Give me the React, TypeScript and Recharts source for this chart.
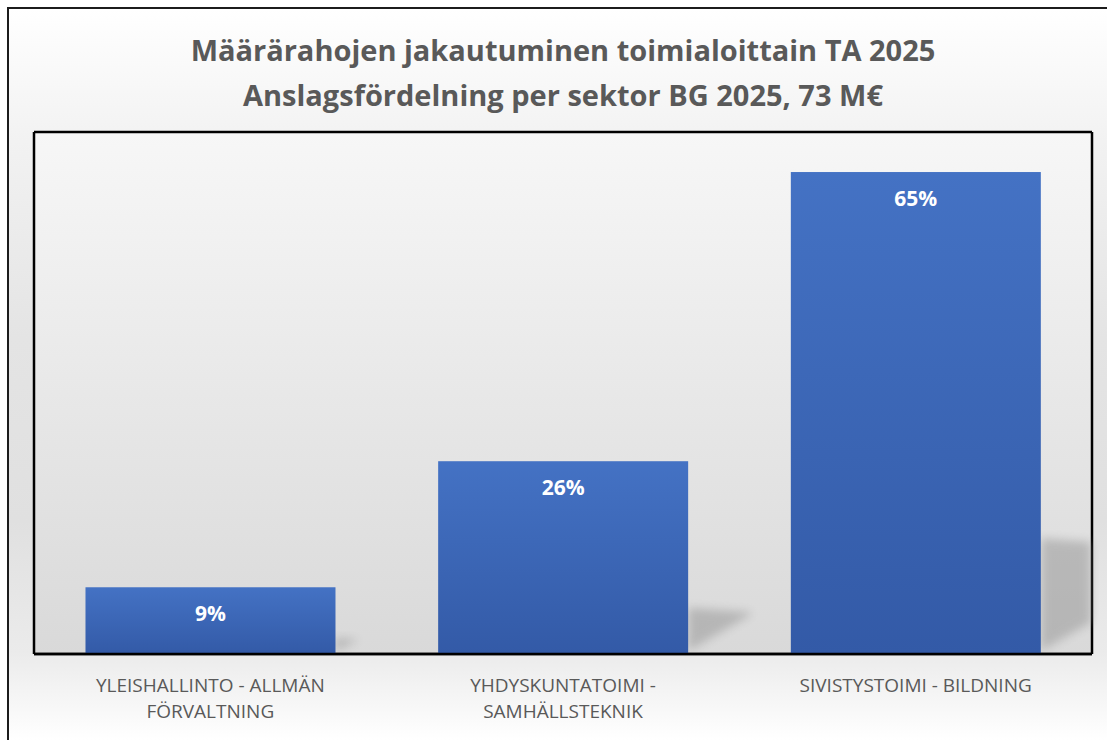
import React from 'react';
import { BarChart, Bar, XAxis, YAxis, CartesianGrid, LabelList } from 'recharts';

const categories = [
  'YLEISHALLINTO - ALLMÄN FÖRVALTNING',
  'YHDYSKUNTATOIMI - SAMHÄLLSTEKNIK',
  'SIVISTYSTOIMI - BILDNING',
];
const categoryLines = [
  ['YLEISHALLINTO - ALLMÄN', 'FÖRVALTNING'],
  ['YHDYSKUNTATOIMI -', 'SAMHÄLLSTEKNIK'],
  ['SIVISTYSTOIMI - BILDNING'],
];
const shares = [9, 26, 65];
const titleLines = [
  'Määrärahojen jakautuminen toimialoittain TA 2025',
  'Anslagsfördelning per sektor BG 2025, 73 M€',
];
const yMax = 70.4;

const data = categories.map((name, i) => ({ name, value: shares[i] }));

const FONT = '"Open Sans", "Noto Sans", sans-serif';
const TEXT_GRAY = '#595959';

const CategoryTick = (props: any) => {
  const { x, y, payload } = props;
  const idx = categories.indexOf(payload.value);
  const lines = categoryLines[idx] || [payload.value];
  return (
    <text x={x} y={y} textAnchor="middle" fill={TEXT_GRAY} fontSize={19} fontFamily={FONT}>
      {lines.map((l, i) => (
        <tspan key={i} x={x} dy={i === 0 ? 38 : 26}>{l}</tspan>
      ))}
    </text>
  );
};

const BarWithShadow = (props: any) => {
  const { x, y, width, height, index } = props;
  if (!height || height <= 0) return null;
  const R = x + width;
  const B = y + height;
  const sh = height * 0.24;
  const full = sh * 1.35;
  const isLast = index === shares.length - 1;
  const dx = isLast ? Math.min(full, width * 0.2) : full;
  const t = dx / full;
  const pts = [
    [R, B - sh],
    [R + dx, B - sh + 0.1 * sh * t],
    [R + dx, B - t * 0.85 * sh],
    [R, B - 3],
  ]
    .map((p) => p.join(','))
    .join(' ');
  return (
    <g>
      <polygon points={pts} fill="#8a8a8a" opacity={0.45} filter="url(#shadowBlur)" />
      <rect x={x} y={y} width={width} height={height} fill="url(#barGrad)" />
    </g>
  );
};

const hEdges = ({ offset }: any) => [offset.top, offset.top + offset.height];
const vEdges = ({ offset }: any) => [offset.left, offset.left + offset.width];

export default function App() {
  return (
    <div
      style={{
        position: 'fixed',
        left: 7,
        top: 7,
        width: 1100,
        height: 733,
        overflow: 'hidden',
        boxSizing: 'border-box',
        borderLeft: '2px solid #1c1c1c',
        borderTop: '2px solid #1c1c1c',
        background:
          'linear-gradient(to bottom, #ffffff 0%, #f2f2f2 18%, #e4e4e4 45%, #e0e0e0 70%, #ebebeb 88%, #ffffff 100%)',
      }}
    >
      <svg width={0} height={0} style={{ position: 'absolute' }}>
        <defs>
          <linearGradient id="plotBg" x1="0" y1="0" x2="0" y2="1">
            <stop offset="0%" stopColor="#f7f7f7" />
            <stop offset="100%" stopColor="#d9d9d9" />
          </linearGradient>
          <linearGradient id="barGrad" x1="0" y1="0" x2="0" y2="1">
            <stop offset="0%" stopColor="#4472c4" />
            <stop offset="100%" stopColor="#335aa7" />
          </linearGradient>
          <filter id="shadowBlur" x="-50%" y="-50%" width="200%" height="200%">
            <feGaussianBlur stdDeviation="5" />
          </filter>
        </defs>
      </svg>
      <div
        style={{
          position: 'absolute',
          left: 25,
          top: 18,
          width: 1058,
          textAlign: 'center',
          fontFamily: FONT,
          fontWeight: 700,
          fontSize: 29,
          lineHeight: '45px',
          color: TEXT_GRAY,
          zIndex: 2,
        }}
      >
        {titleLines.map((l, i) => (
          <div key={i}>{l}</div>
        ))}
      </div>
      <div style={{ position: 'absolute', left: 0, top: 0 }}>
        <BarChart
          width={1098}
          height={731}
          data={data}
          margin={{ top: 123, right: 15, left: 25, bottom: 6 }}
          barCategoryGap="14.6%"
        >
          <CartesianGrid
            fill="url(#plotBg)"
            stroke="#000"
            strokeWidth={2.5}
            horizontalCoordinatesGenerator={hEdges}
            verticalCoordinatesGenerator={vEdges}
          />
          <XAxis
            dataKey="name"
            height={80}
            tickLine={false}
            tickSize={0}
            tickMargin={0}
            interval={0}
            axisLine={{ stroke: '#000', strokeWidth: 2.5 }}
            tick={<CategoryTick />}
          />
          <YAxis hide domain={[0, yMax]} />
          <Bar dataKey="value" isAnimationActive={false} shape={<BarWithShadow />}>
            <LabelList
              dataKey="value"
              position="insideTop"
              offset={19}
              formatter={(v: any) => `${v}%`}
              fill="#ffffff"
              fontSize={21}
              fontWeight={700}
              fontFamily={FONT}
            />
          </Bar>
        </BarChart>
      </div>
    </div>
  );
}
